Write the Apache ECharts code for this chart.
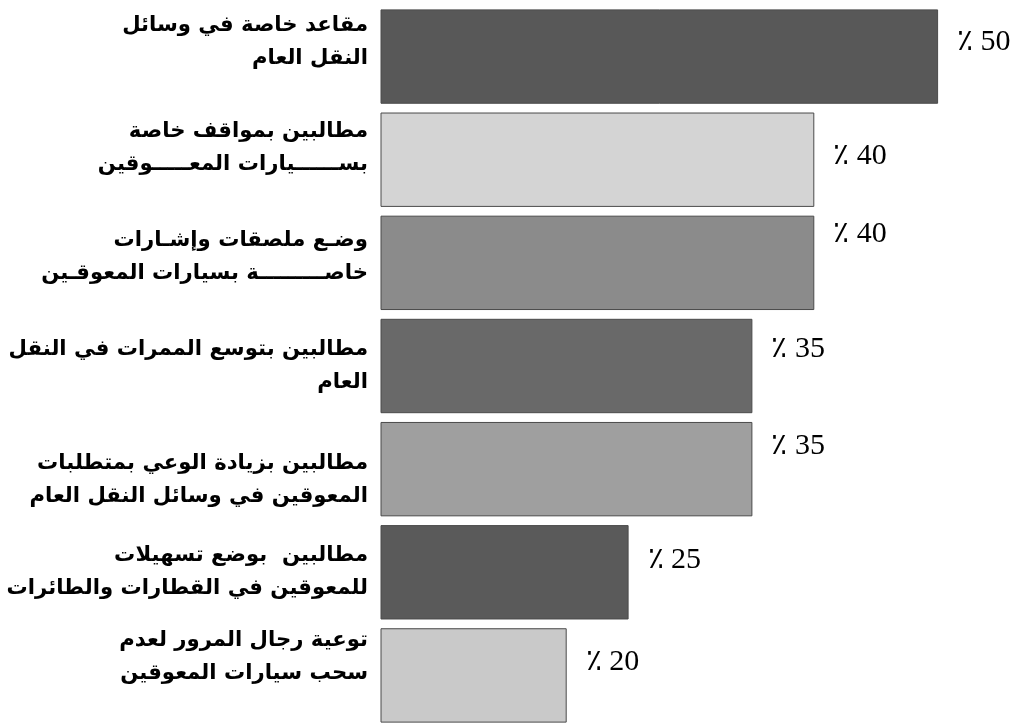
<!DOCTYPE html>
<html lang="ar">
<head>
<meta charset="utf-8">
<title>مطالب المعوقين</title>
<script src="https://cdn.jsdelivr.net/npm/echarts@6/dist/echarts.min.js"></script>
<style>
  html, body { margin: 0; padding: 0; background: #ffffff; }
  #chart { width: 1016px; height: 727px; }
</style>
</head>
<body>
<div id="chart"></div>
<script>
// Demands, top to bottom (two lines each)
const categories = [
  'مقاعد خاصة في وسائل\nالنقل العام',
  'مطالبين بمواقف خاصة\nبســــــيارات المعـــــوقين',
  'وضـع ملصقات وإشـارات\nخاصـــــــــة بسيارات المعوقـين',
  'مطالبين بتوسع الممرات في النقل\nالعام',
  'مطالبين بزيادة الوعي بمتطلبات\nالمعوقين في وسائل النقل العام',
  'مطالبين  بوضع تسهيلات\nللمعوقين في القطارات والطائرات',
  'توعية رجال المرور لعدم\nسحب سيارات المعوقين'
];

// Share of respondents, percent
const values = [50, 40, 40, 35, 35, 25, 20];

// Grey fill of each bar
const barColors = ['#585858', '#d4d4d4', '#8b8b8b', '#696969', '#9f9f9f', '#5a5a5a', '#c9c9c9'];

// Vertical nudge of the category text and of the value text (px, negative = up)
const nameShift = [-15, -12, -6, 0, 11, 0, -18];
const valueShift = [-14, -4, -29, -17, -23, -12, -13];

// Category text as rich text; an empty spacer line above or below moves the block
function nameFormatter(value, index) {
  const body = value.split('\n').map(s => '{t|' + s + '}').join('\n');
  const d = nameShift[index] || 0;
  if (d < 0) return body + '\n{s' + index + '| }';
  if (d > 0) return '{s' + index + '| }\n' + body;
  return body;
}

const rich = { t: { fontFamily: 'DejaVu Sans', fontWeight: 'bold', fontSize: 21.2, lineHeight: 33, color: '#000000', align: 'right' } };
nameShift.forEach((d, i) => {
  const h = Math.max(1, Math.abs(d) * 2);
  rich['s' + i] = { fontSize: 1, lineHeight: h, height: h };
});

const chart = echarts.init(document.getElementById('chart'), null, { renderer: 'canvas' });

chart.setOption({
  backgroundColor: '#ffffff',
  animation: false,
  grid: { left: 381, top: 5, height: 726, right: 16, containLabel: false },
  xAxis: {
    type: 'value',
    min: 5,
    max: 55,
    show: false
  },
  yAxis: {
    type: 'category',
    inverse: true,
    data: categories,
    axisLine: { show: false },
    axisTick: { show: false },
    splitLine: { show: false },
    axisLabel: {
      margin: 13,
      align: 'right',
      formatter: nameFormatter,
      rich: rich
    }
  },
  series: [{
    type: 'bar',
    barCategoryGap: '8.5%',
    data: values.map((v, i) => ({
      value: v,
      itemStyle: { color: barColors[i] },
      label: { offset: [0, valueShift[i]] }
    })),
    itemStyle: { borderColor: '#4a4a4a', borderWidth: 1 },
    label: {
      show: true,
      position: 'right',
      distance: 19,
      formatter: p => '٪ ' + p.value,
      fontFamily: 'Liberation Serif',
      fontSize: 30,
      color: '#000000'
    }
  }]
});
</script>
</body>
</html>
